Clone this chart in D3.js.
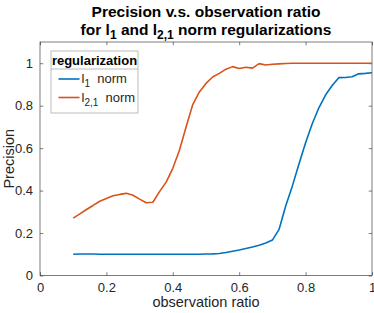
<!DOCTYPE html>
<html>
<head>
<meta charset="utf-8">
<script src="https://cdn.jsdelivr.net/npm/d3@7"></script>
<style>
  body { margin: 0; background: #fff; }
  svg text { font-family: "Liberation Sans", Arial, sans-serif; }
</style>
</head>
<body>
<div id="chart"></div>
<script>
// observation ratios (x)
const ratios = d3.range(46).map(i => +(0.1 + i * 0.02).toFixed(2));

// l1 norm precision
const l1Values = [
  0.100, 0.101, 0.101, 0.101, 0.100, 0.100, 0.100, 0.100, 0.100, 0.100,
  0.100, 0.100, 0.100, 0.100, 0.100, 0.100, 0.100, 0.100, 0.100, 0.100,
  0.101, 0.102, 0.104, 0.108, 0.114, 0.120, 0.127, 0.134, 0.143, 0.153,
  0.167, 0.217, 0.327, 0.421, 0.525, 0.625, 0.715, 0.790, 0.850, 0.895,
  0.932, 0.933, 0.936, 0.950, 0.952, 0.955
];

// l2,1 norm precision
const l21Values = [
  0.270, 0.290, 0.311, 0.330, 0.350, 0.363, 0.376, 0.382, 0.387, 0.378,
  0.360, 0.343, 0.345, 0.395, 0.440, 0.505, 0.590, 0.700, 0.805, 0.865,
  0.905, 0.935, 0.952, 0.972, 0.984, 0.975, 0.981, 0.977, 0.998, 0.992,
  0.995, 0.997, 0.999, 1.000, 1.000, 1.000, 1.000, 1.000, 1.000, 1.000,
  1.000, 1.000, 1.000, 1.000, 1.000, 1.000
];

const xTicks = [0, 0.2, 0.4, 0.6, 0.8, 1];
const yTicks = [0, 0.2, 0.4, 0.6, 0.8, 1];

const series = [
  { name: "l", sub: "1", values: l1Values, color: "#0072BD" },
  { name: "l", sub: "2,1", values: l21Values, color: "#D95319" }
];

const width = 374, height = 313;
const margin = { top: 42, right: 2, bottom: 37.5, left: 40 };
const innerWidth = width - margin.left - margin.right;
const innerHeight = height - margin.top - margin.bottom;
const axisColor = "#262626";

const svg = d3.select("#chart")
  .append("svg")
  .attr("width", width)
  .attr("height", height);

const g = svg.append("g")
  .attr("transform", `translate(${margin.left},${margin.top})`);

const x = d3.scaleLinear().domain([0, 1]).range([0, innerWidth]);
const y = d3.scaleLinear().domain([0, 1.1]).range([innerHeight, 0]);

// Axes (ticks pointing inward, MATLAB style box)
const tickLen = 3.3;

g.append("g")
  .attr("transform", `translate(0,${innerHeight})`)
  .call(d3.axisBottom(x).tickValues(xTicks).tickSizeInner(-tickLen).tickSizeOuter(0)
    .tickPadding(7).tickFormat(d3.format("~g")));

g.append("g")
  .call(d3.axisLeft(y).tickValues(yTicks).tickSizeInner(-tickLen).tickSizeOuter(0)
    .tickPadding(7).tickFormat(d3.format("~g")));

g.append("g")
  .call(d3.axisTop(x).tickValues(xTicks).tickSizeInner(-tickLen).tickSizeOuter(0).tickFormat(""));

g.append("g")
  .attr("transform", `translate(${innerWidth},0)`)
  .call(d3.axisRight(y).tickValues(yTicks).tickSizeInner(-tickLen).tickSizeOuter(0).tickFormat(""));

g.selectAll(".domain").remove();
g.selectAll(".tick line").attr("stroke", axisColor).attr("stroke-width", 0.6);
g.selectAll(".tick text")
  .attr("fill", axisColor)
  .attr("font-size", "13px")
  .attr("font-family", "Liberation Sans, Arial, sans-serif");

// box
g.append("rect")
  .attr("width", innerWidth)
  .attr("height", innerHeight)
  .attr("fill", "none")
  .attr("stroke", axisColor)
  .attr("stroke-width", 0.6);

// lines
const line = d3.line()
  .x((d, i) => x(ratios[i]))
  .y(d => y(d));

series.forEach(s => {
  g.append("path")
    .datum(s.values)
    .attr("d", line)
    .attr("fill", "none")
    .attr("stroke", s.color)
    .attr("stroke-width", 1.6)
    .attr("stroke-linejoin", "round");
});

// axis labels
svg.append("text")
  .attr("x", margin.left + innerWidth / 2)
  .attr("y", 307)
  .attr("text-anchor", "middle")
  .attr("font-size", "14.5px")
  .attr("fill", axisColor)
  .text("observation ratio");

svg.append("text")
  .attr("transform", `translate(14,${margin.top + y(0.55)}) rotate(-90)`)
  .attr("text-anchor", "middle")
  .attr("font-size", "14.5px")
  .attr("fill", axisColor)
  .text("Precision");

// title
const title = svg.append("g").attr("font-weight", "bold").attr("fill", "#000");
title.append("text")
  .attr("x", margin.left + innerWidth / 2)
  .attr("y", 17)
  .attr("text-anchor", "middle")
  .attr("font-size", "15.5px")
  .text("Precision v.s. observation ratio");

const t2 = title.append("text")
  .attr("x", margin.left + innerWidth / 2)
  .attr("y", 35)
  .attr("text-anchor", "middle")
  .attr("font-size", "15.5px");
t2.append("tspan").text("for l");
t2.append("tspan").attr("dy", 4).attr("font-size", "12px").text("1");
t2.append("tspan").attr("dy", -4).text(" and l");
t2.append("tspan").attr("dy", 4).attr("font-size", "12px").text("2,1");
t2.append("tspan").attr("dy", -4).text(" norm regularizations");

// legend
const lg = svg.append("g").attr("transform", "translate(51,51)");
const lgW = 87, lgH = 62;
lg.append("rect")
  .attr("width", lgW)
  .attr("height", lgH)
  .attr("fill", "#fff")
  .attr("stroke", "#a0a0a0")
  .attr("stroke-width", 0.7);
lg.append("line")
  .attr("x1", 0).attr("x2", lgW)
  .attr("y1", 18).attr("y2", 18)
  .attr("stroke", "#a0a0a0")
  .attr("stroke-width", 0.7);
lg.append("text")
  .attr("x", lgW / 2)
  .attr("y", 13.5)
  .attr("text-anchor", "middle")
  .attr("font-size", "13px")
  .attr("font-weight", "bold")
  .attr("fill", "#000")
  .text("regularization");

series.forEach((s, i) => {
  const ry = 28 + i * 18.5;
  lg.append("line")
    .attr("x1", 7.5).attr("x2", 28.5)
    .attr("y1", ry).attr("y2", ry)
    .attr("stroke", s.color)
    .attr("stroke-width", 1.6);
  const t = lg.append("text")
    .attr("x", 30.5)
    .attr("y", ry + 4)
    .attr("font-size", "13px")
    .attr("fill", axisColor);
  t.append("tspan").text(s.name);
  t.append("tspan").attr("dy", 4).attr("font-size", "10px").text(s.sub);
  t.append("tspan").attr("dy", -4).text("\u00a0 norm");
});
</script>
</body>
</html>
